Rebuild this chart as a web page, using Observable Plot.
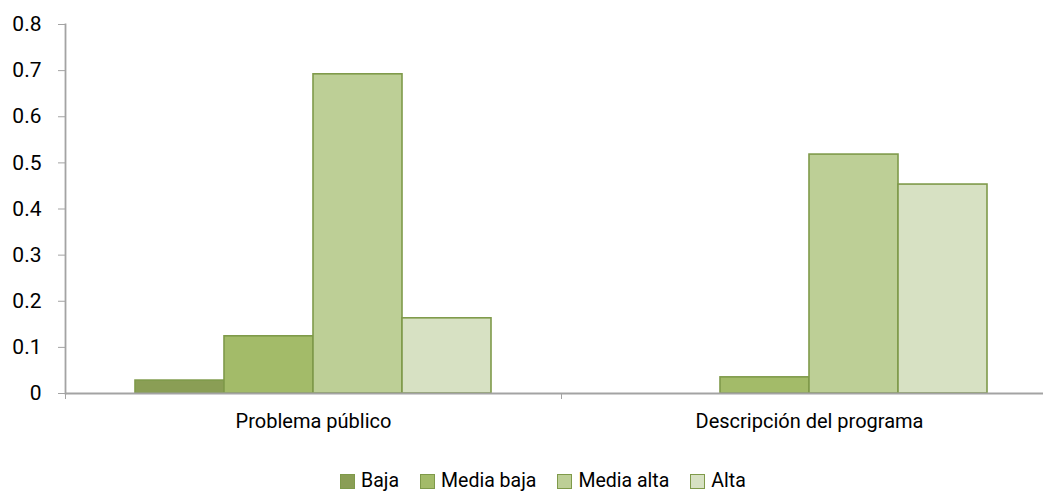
<!DOCTYPE html>
<html>
<head>
<meta charset="utf-8">
<script src="https://cdn.jsdelivr.net/npm/d3@7"></script>
<script src="https://cdn.jsdelivr.net/npm/@observablehq/plot@0.6"></script>
<style>
  html, body { margin: 0; padding: 0; background: #fff; }
  body { width: 1043px; height: 491px; overflow: hidden; font-family: Roboto, sans-serif; font-weight: 400; }
  #legend { display: flex; align-items: center; margin-left: 340px; margin-top: 12px; font-size: 19.5px; color: #000; line-height: 22px; }
  .item { display: flex; align-items: center; margin-right: 21px; }
  .sw { width: 15px; height: 15px; box-sizing: border-box; border: 1.5px solid #7f9a4a; margin-right: 6px; }
</style>
</head>
<body>
<div id="chart"></div>
<div id="legend"></div>
<script>
const categories = ["Problema público", "Descripción del programa"];
const series = ["Baja", "Media baja", "Media alta", "Alta"];
const valuesProblema = [0.028, 0.124, 0.692, 0.163];
const valuesDescripcion = [0, 0.035, 0.518, 0.453];
const colors = ["#8a9e55", "#a3bb69", "#bdcf96", "#d7e1c3"];
const yTicks = [0, 0.1, 0.2, 0.3, 0.4, 0.5, 0.6, 0.7, 0.8];

const data = [];
[valuesProblema, valuesDescripcion].forEach((vals, i) => {
  vals.forEach((v, j) => data.push({category: categories[i], series: series[j], value: v}));
});

const plot = Plot.plot({
  width: 1043,
  height: 458,
  marginLeft: 65,
  marginRight: -14,
  marginTop: 24,
  marginBottom: 65,
  style: {fontFamily: 'Roboto, sans-serif', fontWeight: 400, color: "#000", background: "#fff"},
  fx: {domain: categories, padding: 0},
  x: {domain: series, paddingInner: 0, paddingOuter: 0.756},
  y: {domain: [0, 0.8]},
  color: {domain: series, range: colors},
  marks: [
    Plot.barY(data.filter(d => d.value > 0), {fx: "category", x: "series", y: "value", fill: "series", stroke: "#7f9a4a", strokeWidth: 1.6}),
    Plot.ruleY([0], {stroke: "#a3a3a3", strokeWidth: 1.8}),
    Plot.frame({anchor: "left", stroke: "#a3a3a3", strokeWidth: 1.8, facetAnchor: "left"}),
    Plot.axisY({ticks: yTicks, tickSize: 7, tickPadding: 17, fontSize: 21, stroke: "#a3a3a3", tickFormat: d => d === 0 ? "0" : d.toFixed(1), label: null}),
    Plot.axisX({ticks: [], label: null}),
    Plot.axisFx({anchor: "bottom", tickSize: 0, tickPadding: 20, fontSize: 20, label: null}),
    Plot.axisFx({anchor: "bottom", tickSize: 6, text: null, stroke: "#a3a3a3", dx: -248, label: null})
  ]
});
document.getElementById("chart").appendChild(plot);

const legend = document.getElementById("legend");
series.forEach((s, i) => {
  const it = document.createElement("div");
  it.className = "item";
  const sw = document.createElement("div");
  sw.className = "sw";
  sw.style.background = colors[i];
  const t = document.createElement("span");
  t.textContent = s;
  it.appendChild(sw); it.appendChild(t);
  legend.appendChild(it);
});
</script>
</body>
</html>
